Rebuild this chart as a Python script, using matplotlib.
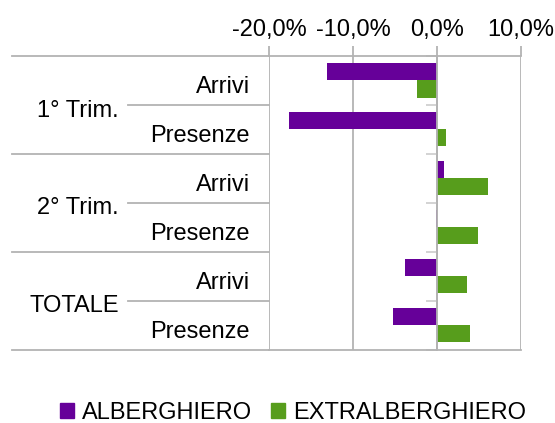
import matplotlib
matplotlib.use("Agg")
from matplotlib import pyplot as plt
from matplotlib import transforms
from matplotlib.patches import Patch
import numpy as np

plt.rcParams['font.family'] = ['Liberation Sans', 'DejaVu Sans']

# data (variation %)
gruppi = ['1° Trim.', '2° Trim.', 'TOTALE']
voci = ['Arrivi', 'Presenze']
alberghiero = [-13.1, -17.6, 0.8, -0.15, -3.8, -5.2]
extralberghiero = [-2.4, 1.1, 6.1, 4.9, 3.6, 3.9]
xticks = [-20, -10, 0, 10]

PURPLE = '#660099'
GREEN = '#579d1c'
GRID = '#b3b3b3'
FS = 17

W, H = 555, 423
fig = plt.figure(figsize=(W / 100, H / 100), dpi=100)
left, right, top, bottom = 269, 521, 56, 349.5
ax = fig.add_axes([left / W, 1 - bottom / H, (right - left) / W, (bottom - top) / H])

n = len(alberghiero)
y = np.arange(n)
h = 0.35
ax.barh(y - h / 2, alberghiero, height=h, color=PURPLE, zorder=3)
ax.barh(y + h / 2, extralberghiero, height=h, color=GREEN, zorder=3)

ax.set_xlim(-20, 10)
ax.set_ylim(n - 0.5, -0.5)

# x axis on top
ax.xaxis.tick_top()
ax.set_xticks(xticks)
ax.set_xticklabels([f"{v:.1f}%".replace('.', ',') for v in xticks], fontsize=FS)
ax.tick_params(axis='x', length=7, width=1.3, color=GRID, pad=4)
ax.grid(axis='x', color=GRID, linewidth=1.3, zorder=0)

# category axis sits on zero
ax.spines['left'].set_position(('data', 0))
ax.spines['left'].set_color(GRID)
ax.spines['left'].set_linewidth(1.3)
ax.spines['left'].set_zorder(4)
ax.spines['right'].set_visible(False)
for s in ['top', 'bottom']:
    ax.spines[s].set_color(GRID)
    ax.spines[s].set_linewidth(1.3)
ax.set_yticks([])
ax.set_yticks(np.arange(n + 1) - 0.5, minor=True)
ax.tick_params(axis='y', which='minor', length=8, width=1.3, color='#d0d0d0')
ax.yaxis.set_minor_formatter(plt.NullFormatter())

# hierarchical labels on the left
trans = transforms.blended_transform_factory(fig.transFigure, ax.transData)
for i in range(n):
    ax.text(250 / W, i + 0.26, voci[i % 2], transform=trans, ha='right', va='baseline', fontsize=FS)
for g, name in enumerate(gruppi):
    ax.text(119 / W, 2 * g + 0.5 + 0.24, name, transform=trans, ha='right', va='baseline', fontsize=FS)
    # inner separator
    ax.plot([128 / W, left / W], [2 * g + 0.5, 2 * g + 0.5], transform=trans,
            color=GRID, linewidth=1.3, clip_on=False)
for b in [-0.5, 1.5, 3.5, 5.5]:
    ax.plot([12 / W, left / W], [b, b], transform=trans,
            color=GRID, linewidth=1.3, clip_on=False)

handles = [Patch(color=PURPLE, label='ALBERGHIERO'),
           Patch(color=GREEN, label='EXTRALBERGHIERO')]
fig.legend(handles=handles, loc='center', bbox_to_anchor=(293 / W, (H - 412.5) / H),
           ncol=2, frameon=False, fontsize=FS, handlelength=0.6, handleheight=0.6,
           handletextpad=0.34, columnspacing=0.8, borderpad=0)

fig.savefig('out.png', dpi=100)
